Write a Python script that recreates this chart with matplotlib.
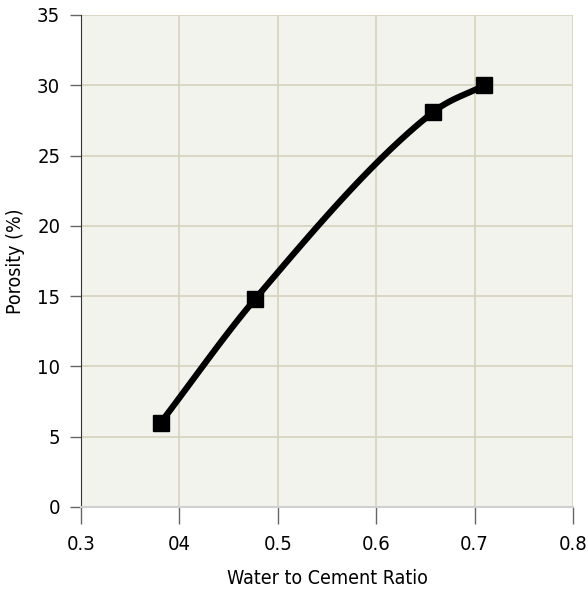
import matplotlib.pyplot as plt
import numpy as np

# water/cement ratio vs porosity
wc_ratio = [0.381, 0.477, 0.658, 0.71]
porosity = [6.0, 14.8, 28.1, 30.0]

x_ticks = [0.3, 0.4, 0.5, 0.6, 0.7, 0.8]
x_tick_labels = ["0.3", "04", "0.5", "0.6", "0.7", "0.8"]
y_ticks = [0, 5, 10, 15, 20, 25, 30, 35]


def smooth(xs, ys, n=30):
    # cubic hermite in x through the measured points, only for the drawn line
    xs = np.asarray(xs, float)
    ys = np.asarray(ys, float)
    sec = np.diff(ys) / np.diff(xs)
    m = np.empty_like(ys)
    m[0], m[-1] = sec[0], sec[-1]
    m[1:-1] = (sec[:-1] + sec[1:]) / 2
    out_x, out_y = [], []
    t = np.linspace(0, 1, n)
    for i in range(len(xs) - 1):
        h = xs[i + 1] - xs[i]
        h00 = 2 * t**3 - 3 * t**2 + 1
        h10 = t**3 - 2 * t**2 + t
        h01 = -2 * t**3 + 3 * t**2
        h11 = t**3 - t**2
        out_x.extend(xs[i] + h * t)
        out_y.extend(h00 * ys[i] + h10 * h * m[i] + h01 * ys[i + 1] + h11 * h * m[i + 1])
    return out_x, out_y


plt.rcParams["font.family"] = ["DejaVu Sans"]
plt.rcParams["font.stretch"] = "condensed"

fig = plt.figure(figsize=(5.88, 5.93), dpi=100)
ax = fig.add_axes([81 / 588, 86 / 593, 492 / 588, 492 / 593])
ax.set_facecolor("#f3f3ee")

sx, sy = smooth(wc_ratio, porosity)
ax.plot(sx, sy, color="black", lw=4.5, solid_capstyle="round", zorder=3)
ax.plot(wc_ratio, porosity, ls="none", marker="s", ms=11, color="black", zorder=4)

ax.set_xlim(0.3, 0.8)
ax.set_ylim(0, 35)
ax.set_xticks(x_ticks)
ax.set_xticklabels(x_tick_labels)
ax.set_yticks(y_ticks)
ax.grid(True, color="#d6d3bd", lw=1.2)
ax.set_axisbelow(True)

for s in ("top", "right"):
    ax.spines[s].set_visible(False)
ax.spines["left"].set_color("#333333")
ax.spines["bottom"].set_color("#d0d0d0")
ax.spines["bottom"].set_linewidth(1.5)

ax.tick_params(axis="x", direction="out", length=12, width=1, color="#666666",
               pad=8, labelsize=14.5)
ax.tick_params(axis="y", direction="out", length=8, width=1, color="#666666",
               pad=7, labelsize=14.5)

ax.set_xlabel("Water to Cement Ratio", fontsize=14, labelpad=11)
ax.set_ylabel("Porosity (%)", fontsize=14, labelpad=9)

fig.savefig("out.png", dpi=100)
